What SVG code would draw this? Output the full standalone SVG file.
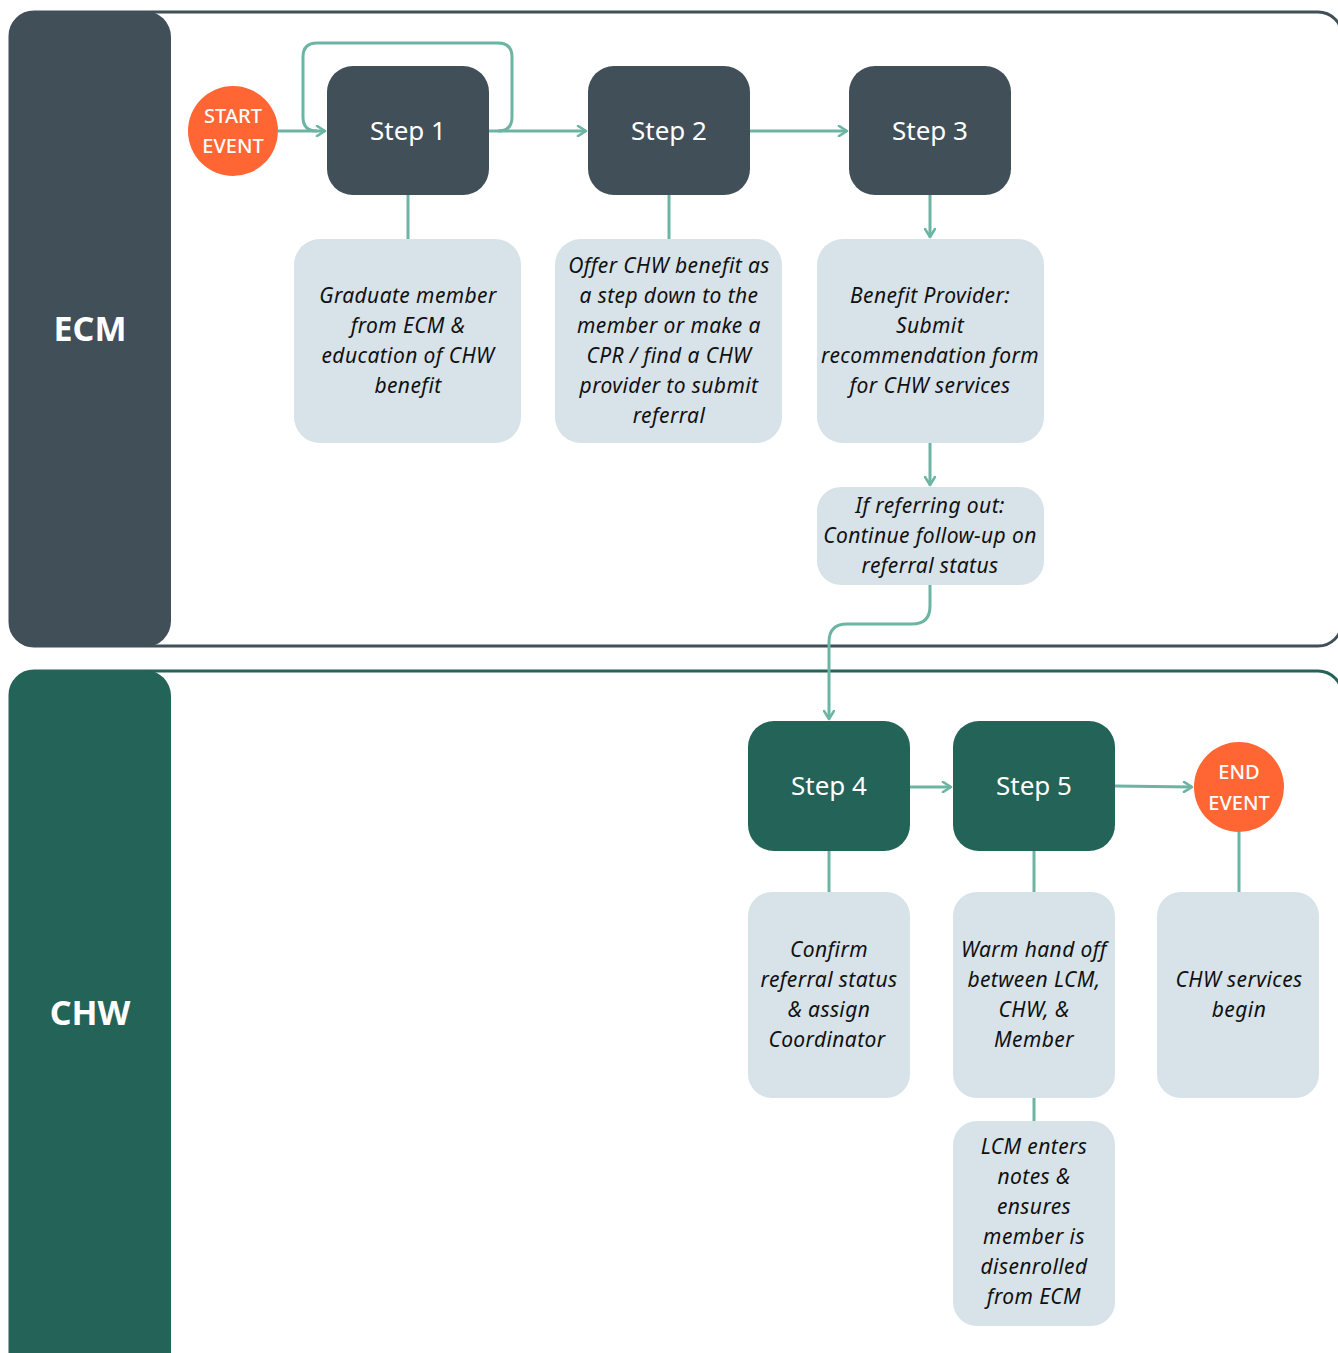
<svg xmlns="http://www.w3.org/2000/svg" width="1338" height="1353" viewBox="0 0 1338 1353">
<defs>
<style>
.lane{fill:none;stroke-width:3}
.band-ecm{fill:#414f59}
.band-chw{fill:#246358}
.step-ecm{fill:#414f59}
.step-chw{fill:#246358}
.ev{fill:#ff6633}
.note{fill:#d7e3e9}
.conn{fill:none;stroke:#6cb5a4;stroke-width:3;stroke-linecap:butt}
.lbl{font-family:"Noto Sans","DejaVu Sans",sans-serif;fill:#fff;text-anchor:middle}
.lane-lbl{font-size:34px;font-weight:bold}
.step-lbl{font-size:26px}
.ev-lbl{font-size:20px;font-weight:500}
.nt{font-family:"Noto Sans","DejaVu Sans",sans-serif;font-style:italic;font-size:21px;letter-spacing:0.4px;fill:#111;text-anchor:middle}
</style>
<marker id="ah" viewBox="0 0 12 12" refX="10" refY="6" markerWidth="12" markerHeight="12" markerUnits="userSpaceOnUse" orient="auto">
<path d="M2,1 L10,6 L2,11" fill="none" stroke="#6cb5a4" stroke-width="2.6" stroke-linecap="round" stroke-linejoin="round"/>
</marker>
</defs>
<rect width="1338" height="1353" fill="#fff"/>

<g id="lane-ecm">
<rect class="lane" x="10" y="12" width="1332" height="634" rx="24" stroke="#414f59"/>
<rect class="band-ecm" x="9" y="11" width="162" height="636" rx="26"/>
<text class="lbl lane-lbl" x="90" y="341">ECM</text>
</g>
<g id="lane-chw">
<rect class="lane" x="10" y="671" width="1332" height="720" rx="24" stroke="#246358"/>
<rect class="band-chw" x="9" y="670" width="162" height="720" rx="26"/>
<text class="lbl lane-lbl" x="90" y="1025">CHW</text>
</g>

<g id="connectors">
<path class="conn" d="M278,131 H325" marker-end="url(#ah)"/>
<path class="conn" d="M489,131 H586" marker-end="url(#ah)"/>
<path class="conn" d="M498,131 Q512,131 512,117 V57 Q512,43 498,43 H317 Q303,43 303,57 V117 Q303,131 317,131"/>
<path class="conn" d="M750,131 H847" marker-end="url(#ah)"/>
<path class="conn" d="M408,195 V239"/>
<path class="conn" d="M669,195 V239"/>
<path class="conn" d="M930,195 V237" marker-end="url(#ah)"/>
<path class="conn" d="M930,443 V485" marker-end="url(#ah)"/>
<path class="conn" d="M930,585 V606 Q930,624 912,624 H847 Q829,624 829,642 V719" marker-end="url(#ah)"/>
<path class="conn" d="M910,787 H951" marker-end="url(#ah)"/>
<path class="conn" d="M1115,786 L1192,787" marker-end="url(#ah)"/>
<path class="conn" d="M829,851 V892"/>
<path class="conn" d="M1034,851 V892"/>
<path class="conn" d="M1239,832 V892"/>
<path class="conn" d="M1034,1098 V1121"/>
</g>

<g id="start-event">
<ellipse class="ev" cx="233" cy="131" rx="45" ry="45"/>
<text class="lbl ev-lbl" x="233" y="123">START</text>
<text class="lbl ev-lbl" x="233" y="153">EVENT</text>
</g>
<g id="step1">
<rect class="step-ecm" x="327" y="66" width="162" height="129" rx="26"/>
<text class="lbl step-lbl" x="408" y="140">Step 1</text>
</g>
<g id="step2">
<rect class="step-ecm" x="588" y="66" width="162" height="129" rx="26"/>
<text class="lbl step-lbl" x="669" y="140">Step 2</text>
</g>
<g id="step3">
<rect class="step-ecm" x="849" y="66" width="162" height="129" rx="26"/>
<text class="lbl step-lbl" x="930" y="140">Step 3</text>
</g>

<g id="note1">
<rect class="note" x="294" y="239" width="227" height="204" rx="26"/>
<text class="nt" x="408" y="303">Graduate member</text>
<text class="nt" x="408" y="333">from ECM &amp;</text>
<text class="nt" x="408" y="363">education of CHW</text>
<text class="nt" x="408" y="393">benefit</text>
</g>
<g id="note2">
<rect class="note" x="555" y="239" width="227" height="204" rx="26"/>
<text class="nt" x="669" y="273">Offer CHW benefit as</text>
<text class="nt" x="669" y="303">a step down to the</text>
<text class="nt" x="669" y="333">member or make a</text>
<text class="nt" x="669" y="363">CPR / find a CHW</text>
<text class="nt" x="669" y="393">provider to submit</text>
<text class="nt" x="669" y="423">referral</text>
</g>
<g id="note3">
<rect class="note" x="817" y="239" width="227" height="204" rx="26"/>
<text class="nt" x="930" y="303">Benefit Provider:</text>
<text class="nt" x="930" y="333">Submit</text>
<text class="nt" x="930" y="363">recommendation form</text>
<text class="nt" x="930" y="393">for CHW services</text>
</g>
<g id="note4">
<rect class="note" x="817" y="487" width="227" height="98" rx="24"/>
<text class="nt" x="930" y="513">If referring out:</text>
<text class="nt" x="930" y="543">Continue follow-up on</text>
<text class="nt" x="930" y="573">referral status</text>
</g>

<g id="step4">
<rect class="step-chw" x="748" y="721" width="162" height="130" rx="26"/>
<text class="lbl step-lbl" x="829" y="795">Step 4</text>
</g>
<g id="step5">
<rect class="step-chw" x="953" y="721" width="162" height="130" rx="26"/>
<text class="lbl step-lbl" x="1034" y="795">Step 5</text>
</g>
<g id="end-event">
<ellipse class="ev" cx="1239" cy="787" rx="45" ry="45"/>
<text class="lbl ev-lbl" x="1239" y="779">END</text>
<text class="lbl ev-lbl" x="1239" y="810">EVENT</text>
</g>

<g id="note5">
<rect class="note" x="748" y="892" width="162" height="206" rx="24"/>
<text class="nt" x="829" y="957">Confirm</text>
<text class="nt" x="829" y="987">referral status</text>
<text class="nt" x="829" y="1017">&amp; assign</text>
<text class="nt" x="827" y="1047">Coordinator</text>
</g>
<g id="note6">
<rect class="note" x="953" y="892" width="162" height="206" rx="24"/>
<text class="nt" x="1034" y="957">Warm hand off</text>
<text class="nt" x="1034" y="987">between LCM,</text>
<text class="nt" x="1034" y="1017">CHW, &amp;</text>
<text class="nt" x="1034" y="1047">Member</text>
</g>
<g id="note7">
<rect class="note" x="1157" y="892" width="162" height="206" rx="24"/>
<text class="nt" x="1239" y="987">CHW services</text>
<text class="nt" x="1239" y="1017">begin</text>
</g>
<g id="note8">
<rect class="note" x="953" y="1121" width="162" height="205" rx="24"/>
<text class="nt" x="1034" y="1154">LCM enters</text>
<text class="nt" x="1034" y="1184">notes &amp;</text>
<text class="nt" x="1034" y="1214">ensures</text>
<text class="nt" x="1034" y="1244">member is</text>
<text class="nt" x="1034" y="1274">disenrolled</text>
<text class="nt" x="1034" y="1304">from ECM</text>
</g>
</svg>
